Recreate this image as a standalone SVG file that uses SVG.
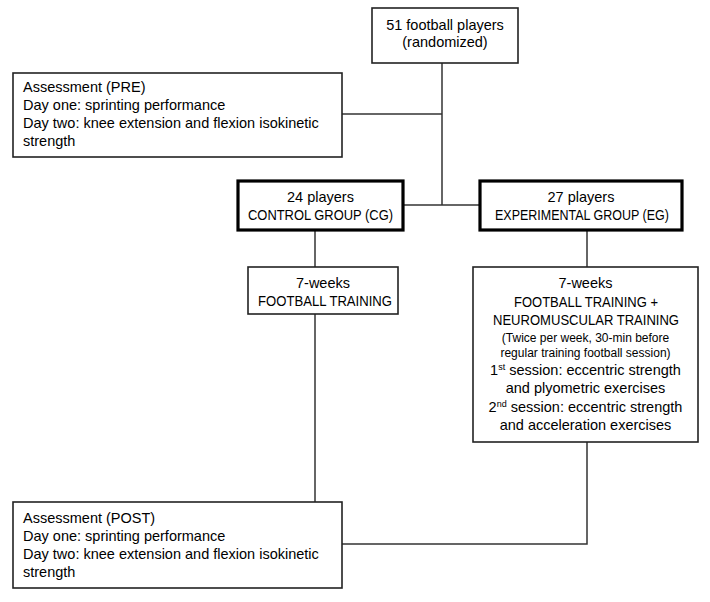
<svg xmlns="http://www.w3.org/2000/svg" width="710" height="602" viewBox="0 0 710 602">
<style>
  .box { fill: #ffffff; stroke: #222222; stroke-width: 1.6; }
  .thick { fill: #ffffff; stroke: #000000; stroke-width: 3.2; }
  .line { fill: none; stroke: #333333; stroke-width: 1.5; }
  text { font-family: "Liberation Sans", Arial, sans-serif; font-size: 14.5px; fill: #000000; }
  .c { text-anchor: middle; }
  .small { font-size: 12px; }
  .sup { font-size: 9px; }
</style>
<rect width="710" height="602" fill="#ffffff"/>
<g id="connectors">
  <polyline class="line" points="442,63 442,205"/>
  <polyline class="line" points="342,114 442,114"/>
  <polyline class="line" points="403,205 479,205"/>
  <polyline class="line" points="315,230 315,267"/>
  <polyline class="line" points="315,314 315,502"/>
  <polyline class="line" points="587,230 587,267"/>
  <polyline class="line" points="587,442 587,544 342,544"/>
</g>
<g id="n-players">
  <rect class="box" x="372" y="8" width="146" height="55"/>
  <text class="c" x="445" y="30">51 football players</text>
  <text class="c" x="445" y="47">(randomized)</text>
</g>
<g id="n-pre">
  <rect class="box" x="13" y="73" width="329" height="84"/>
  <text x="23" y="92">Assessment (PRE)</text>
  <text x="23" y="110">Day one: sprinting performance</text>
  <text x="23" y="128">Day two: knee extension and flexion isokinetic</text>
  <text x="23" y="146">strength</text>
</g>
<g id="n-cg">
  <rect class="thick" x="238" y="181" width="165" height="49"/>
  <text class="c" x="320.5" y="202">24 players</text>
  <text class="c" x="320.5" y="220" textLength="145" lengthAdjust="spacingAndGlyphs">CONTROL GROUP (CG)</text>
</g>
<g id="n-eg">
  <rect class="thick" x="480" y="181" width="202" height="49"/>
  <text class="c" x="581" y="202">27 players</text>
  <text class="c" x="582" y="220" textLength="174" lengthAdjust="spacingAndGlyphs">EXPERIMENTAL GROUP (EG)</text>
</g>
<g id="n-cg-training">
  <rect class="box" x="248" y="267" width="150" height="47"/>
  <text class="c" x="323" y="288">7-weeks</text>
  <text class="c" x="325" y="306" textLength="134" lengthAdjust="spacingAndGlyphs">FOOTBALL TRAINING</text>
</g>
<g id="n-eg-training">
  <rect class="box" x="473" y="267" width="225" height="175"/>
  <text class="c" x="585.5" y="288">7-weeks</text>
  <text class="c" x="586" y="307" textLength="144" lengthAdjust="spacingAndGlyphs">FOOTBALL TRAINING +</text>
  <text class="c" x="586" y="325" textLength="186" lengthAdjust="spacingAndGlyphs">NEUROMUSCULAR TRAINING</text>
  <text class="c small" x="585.5" y="342">(Twice per week, 30-min before</text>
  <text class="c small" x="585.5" y="357">regular training football session)</text>
  <text class="c" x="585.5" y="375">1<tspan class="sup" dy="-5">st</tspan><tspan dy="5"> session: eccentric strength</tspan></text>
  <text class="c" x="585.5" y="393">and plyometric exercises</text>
  <text class="c" x="585.5" y="412">2<tspan class="sup" dy="-5">nd</tspan><tspan dy="5"> session: eccentric strength</tspan></text>
  <text class="c" x="585.5" y="430">and acceleration exercises</text>
</g>
<g id="n-post">
  <rect class="box" x="13" y="502" width="329" height="86"/>
  <text x="23" y="523">Assessment (POST)</text>
  <text x="23" y="541">Day one: sprinting performance</text>
  <text x="23" y="559">Day two: knee extension and flexion isokinetic</text>
  <text x="23" y="577">strength</text>
</g>
</svg>
